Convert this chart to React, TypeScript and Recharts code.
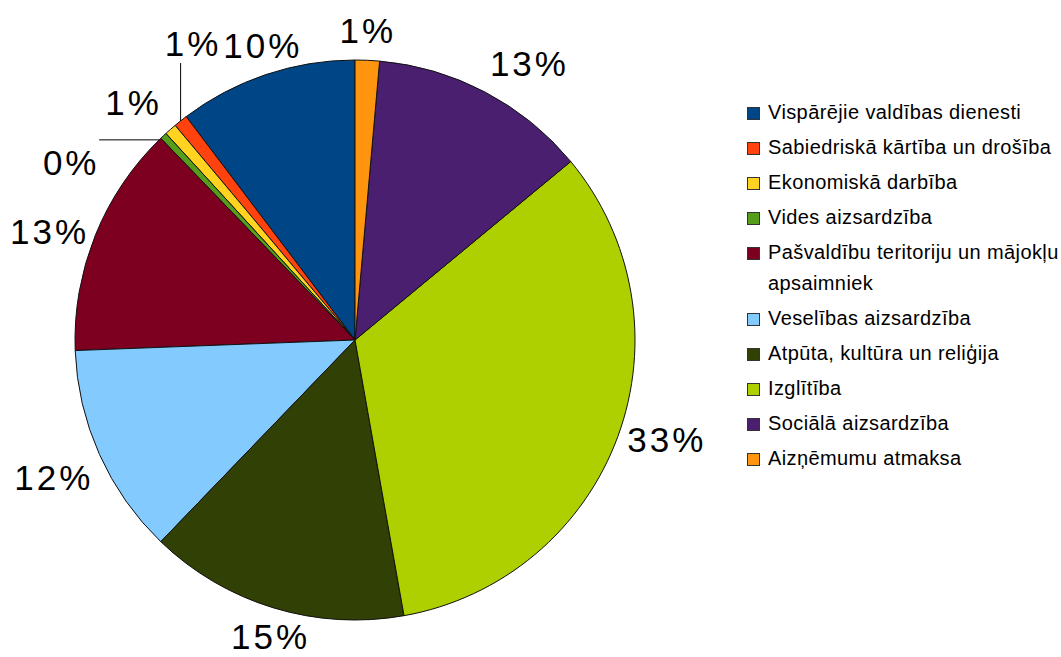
import React from "react";
import { PieChart, Pie, Cell, Legend } from "recharts";

const categories = [
  "Vispārējie valdības dienesti",
  "Sabiedriskā kārtība un drošība",
  "Ekonomiskā darbība",
  "Vides aizsardzība",
  "Pašvaldību teritoriju un mājokļu apsaimniek",
  "Veselības aizsardzība",
  "Atpūta, kultūra un reliģija",
  "Izglītība",
  "Sociālā aizsardzība",
  "Aizņēmumu atmaksa",
];

// shares in %
const shares = [10.3, 0.8, 0.7, 0.4, 13.4, 12.2, 15.0, 33.2, 12.6, 1.4];

const colors = [
  "#004586",
  "#ff420e",
  "#ffd320",
  "#579d1c",
  "#7e0021",
  "#83caff",
  "#314004",
  "#aecf00",
  "#4b1f6f",
  "#ff950e",
];

const data = categories.map((name, i) => ({ name, value: shares[i] }));

const FONT = '"Liberation Sans", Arial, sans-serif';
const LABEL_SIZE = 35;

// labels that were pushed aside to avoid overlap
const moved: Record<number, { dx: number; dy: number; leader?: "up" | "left" }> = {
  1: { dx: 44, dy: -50, leader: "up" },
  2: { dx: -5, dy: 1, leader: "left" },
  3: { dx: -60, dy: 54 },
};

function renderLabel(props: any) {
  const { cx, cy, midAngle, outerRadius, percent, index } = props;
  const a = ((midAngle % 360) + 360) % 360;
  const rad = (a * Math.PI) / 180;
  const r = outerRadius + 10;
  const px = cx + r * Math.cos(rad);
  const py = cy - r * Math.sin(rad);

  // outside placement: pick the box side that touches the anchor point
  let anchor: "start" | "middle" | "end" = "start";
  let vAlign: "top" | "middle" | "bottom" = "middle";
  if (a <= 22.5 || a > 337.5) { anchor = "start"; vAlign = "middle"; }
  else if (a < 67.5) { anchor = "start"; vAlign = "bottom"; }
  else if (a < 112.5) { anchor = "middle"; vAlign = "bottom"; }
  else if (a <= 157.5) { anchor = "end"; vAlign = "bottom"; }
  else if (a <= 202.5) { anchor = "end"; vAlign = "middle"; }
  else if (a < 247.5) { anchor = "end"; vAlign = "top"; }
  else if (a < 292.5) { anchor = "middle"; vAlign = "top"; }
  else { anchor = "start"; vAlign = "top"; }

  const m = moved[index];
  const tx = px + (m ? m.dx : 0);
  const ty = py + (m ? m.dy : 0);

  let baseline = ty + 0.3465 * LABEL_SIZE;
  if (vAlign === "bottom") baseline = ty - 0.212 * LABEL_SIZE;
  if (vAlign === "top") baseline = ty + 0.905 * LABEL_SIZE;

  let leader = null;
  if (m && m.leader === "up") {
    const ax = cx + outerRadius * Math.cos(rad);
    const ay = cy - outerRadius * Math.sin(rad);
    leader = <line x1={ax} y1={ay} x2={ax} y2={ty} stroke="#000" strokeWidth={1} />;
  } else if (m && m.leader === "left") {
    const ly = ty + 17;
    const lx = cx - Math.sqrt(outerRadius * outerRadius - (ly - cy) * (ly - cy));
    leader = <line x1={lx - 60} y1={ly} x2={lx} y2={ly} stroke="#000" strokeWidth={1} />;
  }

  return (
    <g key={`lbl-${index}`}>
      {leader}
      <text
        x={anchor === "end" ? tx + 3 : tx}
        y={baseline}
        textAnchor={anchor}
        fill="#000"
        fontSize={LABEL_SIZE}
        fontFamily={FONT}
        letterSpacing={3}
      >
        {`${Math.round(percent * 100)}%`}
      </text>
    </g>
  );
}

// legend keeps the data order (the default Recharts legend sorts by name)
function renderLegend() {
  return (
    <div style={{ fontFamily: FONT, fontSize: 20, color: "#000" }}>
      {categories.map((name, i) => (
        <div
          key={name}
          style={{ display: "flex", alignItems: "flex-start", marginBottom: 4, lineHeight: "31px" }}
        >
          <span
            style={{
              width: 11,
              height: 11,
              background: colors[i],
              border: "1px solid #333",
              marginTop: 10,
              marginRight: 8,
              flexShrink: 0,
            }}
          />
          <span style={{ letterSpacing: 0.4 }}>{name}</span>
        </div>
      ))}
    </div>
  );
}

export default function App() {
  return (
    <div style={{ position: "absolute", left: 0, top: 0, width: 1061, height: 657, background: "#fff" }}>
      <PieChart width={1061} height={657} margin={{ top: 0, right: 0, bottom: 0, left: 0 }}>
        <Pie
          data={data}
          dataKey="value"
          nameKey="name"
          cx={355}
          cy={340}
          outerRadius={280}
          startAngle={90}
          endAngle={450}
          stroke="#111"
          strokeWidth={1}
          label={renderLabel}
          labelLine={false}
          isAnimationActive={false}
        >
          {data.map((d, i) => (
            <Cell key={d.name} fill={colors[i]} />
          ))}
        </Pie>
        <Legend
          layout="vertical"
          align="right"
          verticalAlign="top"
          content={renderLegend}
          wrapperStyle={{ left: 747, top: 97, width: 314 }}
        />
      </PieChart>
    </div>
  );
}
